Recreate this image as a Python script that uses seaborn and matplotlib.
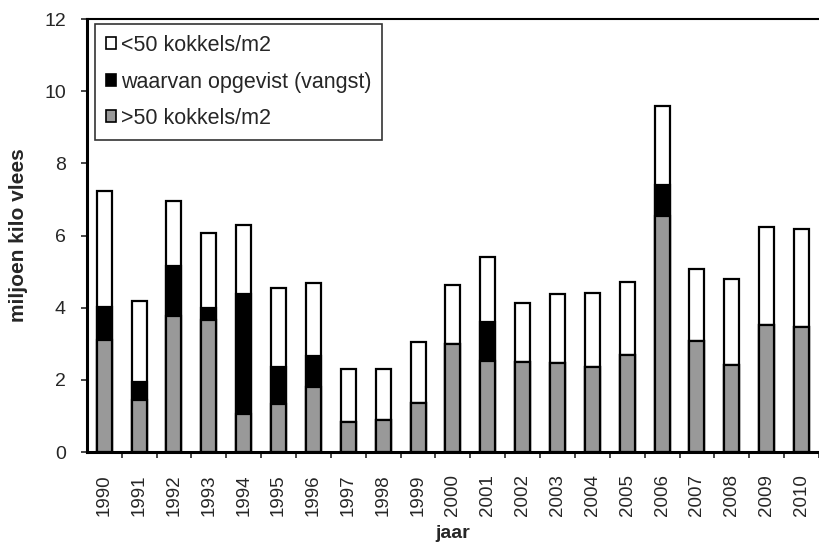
import matplotlib
matplotlib.use("Agg")
import matplotlib.pyplot as plt
import seaborn as sns
import pandas as pd
import numpy as np
from matplotlib.patches import Patch

# data (miljoen kilo vlees)
years = [str(y) for y in range(1990, 2011)]
above50 = [3.10, 1.45, 3.77, 3.65, 1.05, 1.33, 1.79, 0.82, 0.88, 1.37, 2.99,
           2.51, 2.49, 2.47, 2.36, 2.69, 6.53, 3.08, 2.41, 3.52, 3.47]
catch = [0.92, 0.48, 1.38, 0.34, 3.32, 1.03, 0.87, 0.0, 0.0, 0.0, 0.0,
         1.09, 0.0, 0.0, 0.0, 0.0, 0.87, 0.0, 0.0, 0.0, 0.0]
below50 = [3.21, 2.25, 1.81, 2.09, 1.92, 2.18, 2.03, 1.49, 1.43, 1.67, 1.63,
           1.80, 1.65, 1.90, 2.06, 2.01, 2.20, 1.98, 2.39, 2.72, 2.71]

labels = ["<50 kokkels/m2", "waarvan opgevist (vangst)", ">50 kokkels/m2"]

df = pd.DataFrame({"jaar": years, "above50": above50, "catch": catch, "below50": below50})
df["cum_catch"] = df["above50"] + df["catch"]
df["total"] = df["cum_catch"] + df["below50"]

sns.set_style("white")
plt.rcParams["font.family"] = ["Liberation Sans", "DejaVu Sans"]

fig = plt.figure(figsize=(8.19, 5.44), dpi=100)
ax = fig.add_axes([0.106, 0.169, 0.894, 0.796])

bw = 0.43
# stacked look: draw cumulative heights from tallest to shortest
sns.barplot(data=df, x="jaar", y="total", color="white", edgecolor="black",
            linewidth=1.6, width=bw, saturation=1, ax=ax)
sns.barplot(data=df, x="jaar", y="cum_catch", color="black", edgecolor="black",
            linewidth=1.6, width=bw, saturation=1, ax=ax)
sns.barplot(data=df, x="jaar", y="above50", color="#999999", edgecolor="black",
            linewidth=1.6, width=bw, saturation=1, ax=ax)

ax.set_ylim(0, 12)
ax.set_xlim(-0.5, 20.32)
ax.set_yticks(np.arange(0, 13, 2))
ax.tick_params(axis="y", which="major", left=True, length=4, width=1.2,
               direction="out", labelsize=14, pad=11)
ax.set_xticks(np.arange(len(years)))
ax.set_xticklabels(years, rotation=90)
ax.tick_params(axis="x", which="major", length=0, labelsize=13.5, pad=16)
ax.set_xticks(np.arange(len(years)) + 0.5, minor=True)
ax.tick_params(axis="x", which="minor", bottom=True, length=4, width=1.2,
               direction="out")

ax.set_ylabel("miljoen kilo vlees", fontsize=15, fontweight="bold", labelpad=12)
ax.set_xlabel("jaar", fontsize=14, fontweight="bold", va="center")
ax.xaxis.set_label_coords(0.5, -0.188)

for side in ["left", "bottom"]:
    ax.spines[side].set_linewidth(2.2)
    ax.spines[side].set_color("black")
ax.spines["top"].set_linewidth(1.5)
ax.spines["top"].set_color("black")
ax.spines["right"].set_visible(False)

handles = [Patch(facecolor="white", edgecolor="black", linewidth=1.2),
           Patch(facecolor="black", edgecolor="black", linewidth=1.2),
           Patch(facecolor="#999999", edgecolor="black", linewidth=1.2)]
leg = ax.legend(handles, labels, loc="upper left", bbox_to_anchor=(0.011, 0.988),
                fontsize=15.5, frameon=True, fancybox=False, handlelength=0.5,
                handleheight=0.5, handletextpad=0.2, labelspacing=0.72,
                borderpad=0.5, borderaxespad=0.0)
leg.get_frame().set_edgecolor("black")
leg.get_frame().set_linewidth(1.2)

fig.savefig("out.png", dpi=100)
